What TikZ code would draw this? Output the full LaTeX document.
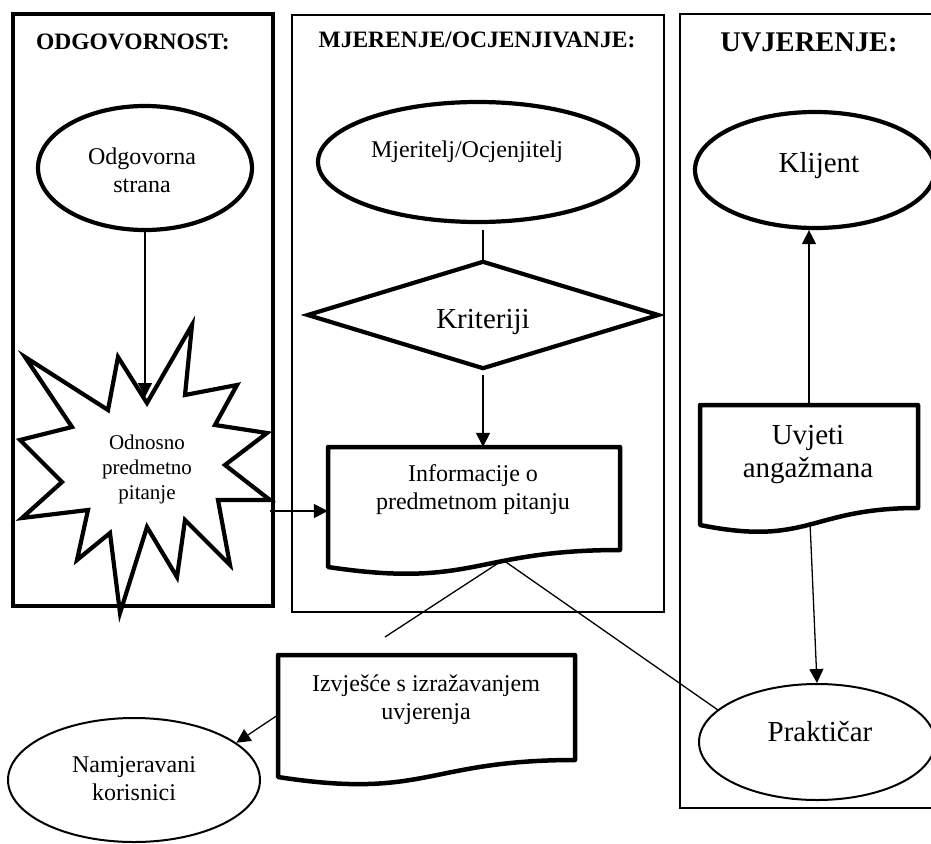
\documentclass[tikz,border=0pt]{standalone}
\usepackage{fontspec}
\setmainfont{Liberation Serif}
\usetikzlibrary{shapes.geometric,arrows.meta}
\begin{document}
\begin{tikzpicture}[x=1pt,y=-1pt,
  heavy/.style={line width=4.2pt},
  medium/.style={line width=2pt},
  conn/.style={line width=1.3pt},
  arr/.style={conn,-{Triangle[length=14pt,width=14pt]}},
  oval/.style={ellipse,draw,fill=white,inner sep=0pt},
  boxname/.style={inner sep=0pt,draw=none},
  hd/.style={font=\bfseries\fontsize{23.5}{27}\selectfont,anchor=base},
  hdbig/.style={font=\bfseries\fontsize{28.5}{32}\selectfont,anchor=base},
  txt/.style={font=\fontsize{24}{28}\selectfont,align=center,inner sep=0pt},
  bigtxt/.style={font=\fontsize{29}{33}\selectfont,align=center,inner sep=0pt},
  smalltxt/.style={font=\fontsize{21}{25}\selectfont,align=center,inner sep=0pt},
]
\useasboundingbox (0,0) rectangle (931,843);
\clip (0,0) rectangle (931,843);

% panels
\draw[heavy] (13,14) rectangle (273,606);
\draw[medium] (292,15) rectangle (664,612);
\draw[medium] (680,14) rectangle (945,808);

% headings
\node[hd] (h1) at (133,50) {ODGOVORNOST:};
\node[hd] (h2) at (477,48) {MJERENJE/OCJENJIVANJE:};
\node[hdbig] (h3) at (809,52) {UVJERENJE:};

% --- column 1
\node[oval,heavy,minimum width=214pt,minimum height=124pt] (odg) at (145,168) {};
\node[txt] (odgt) at (142,170) {Odgovorna\\strana};

\draw[heavy,fill=white,line join=miter,miter limit=20]
  (147,403) -- (192,325) -- (185,395) -- (237,385) -- (215,425) -- (267,433)
  -- (225,465) -- (270,500) -- (218,500) -- (230,565) -- (185,520) -- (177,577)
  -- (147,527) -- (120,613) -- (110,533) -- (77,560) -- (88,510) -- (22,518)
  -- (62,482) -- (20,440) -- (72,427) -- (25,357) -- (108,410) -- (118,357) -- cycle;
\node[smalltxt] (sbt) at (147,469) {Odnosno\\predmetno\\pitanje};
\coordinate (sbtop) at (145,397);
\coordinate (sbR) at (270,511);

% --- column 2
\node[oval,heavy,minimum width=320pt,minimum height=120pt] (mje) at (478,162) {};
\node[txt,anchor=base] (mjet) at (467,157) {Mjeritelj/Ocjenjitelj};

\node[boxname,minimum width=350pt,minimum height=106pt] (kri) at (483,315) {};
\draw[heavy,line join=miter] (kri.west) -- (kri.north) -- (kri.east) -- (kri.south) -- cycle;
\node[bigtxt,anchor=base] (krit) at (483,328) {Kriteriji};

% document: Informacije
\draw[line width=4.5pt,line join=round] (328,447) -- (620,447) -- (620,550)
  .. controls (474,550) and (474,589) .. (328,567) -- cycle;
\node[boxname,minimum width=292pt,minimum height=103pt] (inf) at (474,498.5) {};
\node[txt] (inft) at (473,490) {Informacije o\\predmetnom pitanju};
\coordinate (infw) at (503,560);

% --- column 3
\node[oval,heavy,minimum width=240pt,minimum height=116pt] (kli) at (815,170) {};
\node[bigtxt,anchor=base] (klit) at (819,172) {Klijent};

\draw[line width=4.5pt,line join=round] (700,405) -- (918,405) -- (918,508)
  .. controls (809,508) and (809,547) .. (700,525) -- cycle;
\node[boxname,minimum width=218pt,minimum height=103pt] (uvj) at (809,456.5) {};
\node[bigtxt] (uvjt) at (808,455) {Uvjeti\\angažmana};
\coordinate (uvjw) at (810,522);

\node[oval,medium,minimum width=236pt,minimum height=116pt] (pra) at (817,742) {};
\node[bigtxt,anchor=base] (prat) at (820,741) {Praktičar};

% --- bottom
\draw[line width=4.5pt,line join=round] (278,655) -- (575,655) -- (575,760)
  .. controls (426.5,760) and (426.5,800) .. (278,777) -- cycle;
\node[boxname,minimum width=297pt,minimum height=105pt] (izv) at (426.5,707.5) {};
\node[txt] (izvt) at (426,700) {Izvješće s izražavanjem\\uvjerenja};

\node[oval,medium,minimum width=252pt,minimum height=124pt] (nam) at (134,780) {};
\node[txt] (namt) at (134,779) {Namjeravani\\korisnici};

\coordinate (freeend) at (385,637);

% connectors
\draw[arr] (odg.south) -- (sbtop);
\draw[arr] (sbR) -- (sbR -| inf.west);
\draw[conn] ([yshift=-6pt]kri.north |- mje.south) -- (kri.north);
\draw[arr] ([yshift=-7pt]kri.south) -- (kri.south |- inf.north);
\draw[arr] (uvj.north) -- (uvj.north |- kli.south);
\draw[arr] (uvjw) -- (pra.north);
\draw[conn] (pra.162) -- (infw);
\draw[conn] (infw) -- (freeend);
\draw[arr] ([yshift=-7.5pt]izv.west) -- (nam.20);
\end{tikzpicture}
\end{document}
